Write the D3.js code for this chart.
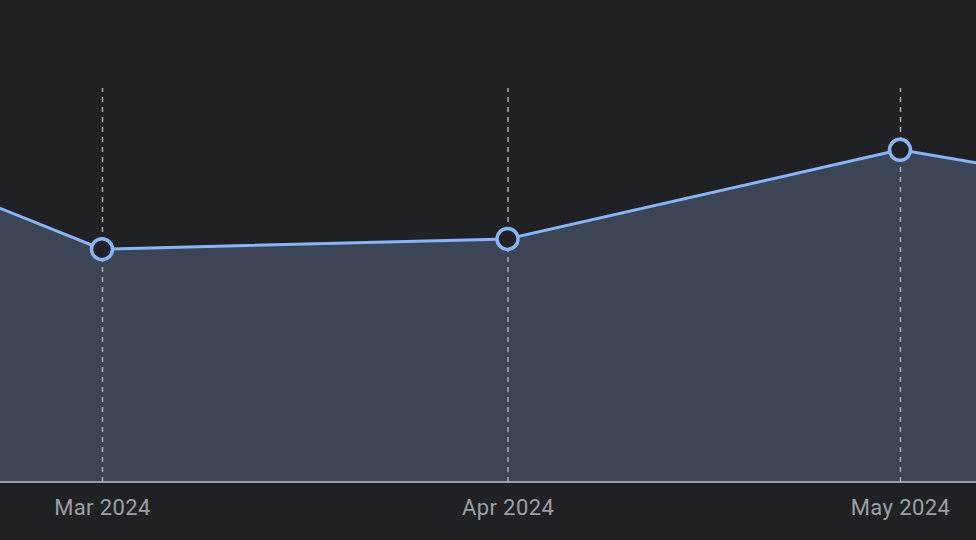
<!DOCTYPE html>
<html>
<head>
<meta charset="utf-8">
<script src="https://cdn.jsdelivr.net/npm/d3@7"></script>
<style>
  html, body { margin: 0; padding: 0; background: #202124; }
  svg { display: block; }
</style>
</head>
<body>
<svg id="chart" width="976" height="540"></svg>
<script>
// data
const dates = ["2024-02-01", "2024-03-01", "2024-04-01", "2024-05-01", "2024-06-01"];
const values = [97.7, 59.1, 61.7, 84.3, 66.8];
const tickDates = ["2024-03-01", "2024-04-01", "2024-05-01"];

const width = 976, height = 540;
const plotTop = 88, plotBottom = 482;

const parse = d3.utcParse("%Y-%m-%d");
const points = dates.map((d, i) => ({ date: parse(d), value: values[i] }));

const svg = d3.select("#chart");

// scales
const x = d3.scaleUtc()
  .domain([parse("2024-03-01"), parse("2024-05-01")])
  .range([102, 900]);

const y = d3.scaleLinear()
  .domain([0, 100])
  .range([plotBottom, plotTop]);

svg.append("defs").append("clipPath")
  .attr("id", "plot-clip")
  .append("rect")
    .attr("x", 0).attr("y", 0)
    .attr("width", width).attr("height", plotBottom);

const plot = svg.append("g").attr("clip-path", "url(#plot-clip)");

// area
const area = d3.area()
  .x(d => x(d.date))
  .y0(plotBottom)
  .y1(d => y(d.value));

plot.append("path")
  .datum(points)
  .attr("fill", "#3c4555")
  .attr("d", area);

// dashed gridlines
svg.append("g")
  .attr("transform", "translate(0," + plotBottom + ")")
  .call(d3.axisBottom(x)
    .tickValues(tickDates.map(parse))
    .tickSize(-(plotBottom - plotTop))
    .tickFormat(""))
  .call(g => g.select(".domain").remove())
  .call(g => g.selectAll(".tick line")
    .attr("stroke", "#a8adb3")
    .attr("stroke-width", 1.5)
    .attr("stroke-dasharray", "5,5"));

// line
const line = d3.line()
  .x(d => x(d.date))
  .y(d => y(d.value));

const fg = svg.append("g").attr("clip-path", "url(#plot-clip)");

fg.append("path")
  .datum(points)
  .attr("fill", "none")
  .attr("stroke", "#8ab4f8")
  .attr("stroke-width", 3)
  .attr("d", line);

// x axis
svg.append("g")
  .attr("transform", "translate(0," + plotBottom + ")")
  .call(d3.axisBottom(x)
    .tickValues(tickDates.map(parse))
    .tickSize(0)
    .tickPadding(17)
    .tickFormat(d3.utcFormat("%b %Y")))
  .call(g => g.select(".domain")
    .attr("d", "M0,0H" + width)
    .attr("stroke", "#bdc1c6")
    .attr("stroke-width", 1.5))
  .call(g => g.selectAll(".tick text")
    .attr("fill", "#9aa0a6")
    .attr("font-family", "Roboto, sans-serif")
    .attr("font-size", 22)
    .attr("letter-spacing", 0.4));

// points
fg.append("g")
  .selectAll("circle")
  .data(points)
  .enter()
  .append("circle")
    .attr("cx", d => x(d.date))
    .attr("cy", d => y(d.value))
    .attr("r", 10.5)
    .attr("fill", "#202124")
    .attr("stroke", "#8ab4f8")
    .attr("stroke-width", 3.5);
</script>
</body>
</html>
